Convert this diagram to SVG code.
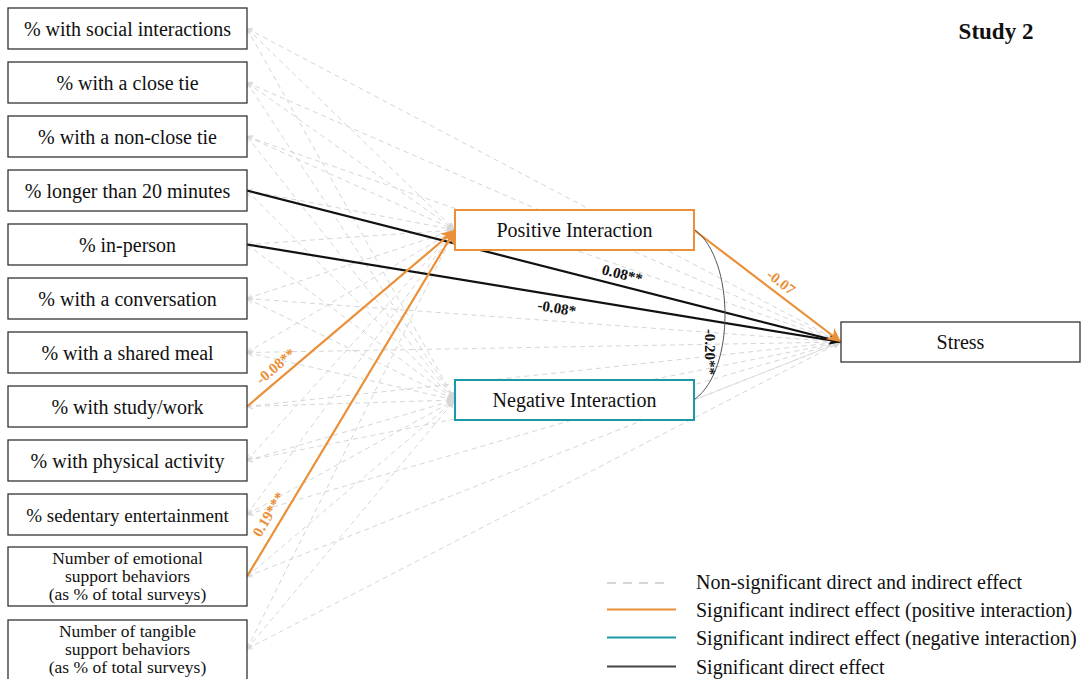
<svg xmlns="http://www.w3.org/2000/svg" width="1081" height="679" viewBox="0 0 1081 679">
<defs>
<style>
.box{fill:#fff;stroke:#333;stroke-width:1.3}
.t{font-family:"Liberation Serif","Times New Roman",serif;font-size:20px;fill:#111;text-anchor:middle}
.t2{font-family:"Liberation Serif","Times New Roman",serif;font-size:19px;fill:#111;text-anchor:middle}
.t3{font-family:"Liberation Serif","Times New Roman",serif;font-size:17.5px;fill:#111;text-anchor:middle}
.lg{font-family:"Liberation Serif","Times New Roman",serif;font-size:20px;fill:#111}
.ns{stroke:#d6d6d6;stroke-width:1;stroke-dasharray:5,4;fill:none;marker-end:url(#ag);marker-start:url(#as)}
.or{stroke:#ea9038;stroke-width:2.2;fill:none;marker-end:url(#ao)}
.bk{stroke:#111;stroke-width:2.2;fill:none;marker-end:url(#ab)}
.lb{font-family:"Liberation Serif","Times New Roman",serif;font-size:15px;font-weight:bold;text-anchor:middle}
</style>
<marker id="ag" viewBox="0 0 10 10" refX="10" refY="5" markerWidth="8" markerHeight="8" markerUnits="userSpaceOnUse" orient="auto"><path d="M0,1 L10,5 L0,9 z" fill="#d6d6d6"/></marker>
<marker id="as" viewBox="0 0 10 10" refX="0" refY="5" markerWidth="7" markerHeight="7" markerUnits="userSpaceOnUse" orient="auto"><path d="M8,1 L0,5 L8,9" fill="none" stroke="#d6d6d6" stroke-width="1.2"/></marker>
<marker id="ao" viewBox="0 0 10 10" refX="10" refY="5" markerWidth="14" markerHeight="14" markerUnits="userSpaceOnUse" orient="auto"><path d="M0,0 L10,5 L0,10 L3,5 z" fill="#ea9038"/></marker>
<marker id="ab" viewBox="0 0 10 10" refX="10" refY="5" markerWidth="12" markerHeight="12" markerUnits="userSpaceOnUse" orient="auto"><path d="M0,1 L10,5 L0,9 L3,5 z" fill="#111"/></marker>
</defs>
<rect width="1081" height="679" fill="#fff"/>
<g id="connectors">
<path class="ns" d="M247,28.5 L455,230"/><path class="ns" d="M247,28.5 L455,400"/><path class="ns" d="M247,28.5 L841,342"/>
<path class="ns" d="M247,82.5 L455,230"/><path class="ns" d="M247,82.5 L455,400"/><path class="ns" d="M247,82.5 L841,342"/>
<path class="ns" d="M247,136.5 L455,230"/><path class="ns" d="M247,136.5 L455,400"/><path class="ns" d="M247,136.5 L841,342"/>
<path class="ns" d="M247,190.5 L455,230"/><path class="ns" d="M247,190.5 L455,400"/>
<path class="ns" d="M247,244.5 L455,230"/><path class="ns" d="M247,244.5 L455,400"/>
<path class="ns" d="M247,298.5 L455,230"/><path class="ns" d="M247,298.5 L455,400"/><path class="ns" d="M247,298.5 L841,342"/>
<path class="ns" d="M247,352.5 L455,230"/><path class="ns" d="M247,352.5 L455,400"/><path class="ns" d="M247,352.5 L841,342"/>
<path class="ns" d="M247,406.5 L455,400"/><path class="ns" d="M247,406.5 L841,342"/>
<path class="ns" d="M247,460.5 L455,230"/><path class="ns" d="M247,460.5 L455,400"/><path class="ns" d="M247,460.5 L841,342"/>
<path class="ns" d="M247,514.5 L455,230"/><path class="ns" d="M247,514.5 L455,400"/><path class="ns" d="M247,514.5 L841,342"/>
<path class="ns" d="M247,576.5 L455,400"/><path class="ns" d="M247,576.5 L841,342"/>
<path class="ns" d="M247,649 L455,230"/><path class="ns" d="M247,649 L455,400"/><path class="ns" d="M247,649 L841,342"/>
<path class="ns" d="M694,400 L841,342" style="marker-start:none"/>
<path class="bk" d="M247,190.5 L841,342"/>
<path class="bk" d="M247,244.5 L841,342"/>
<path class="or" d="M247,406.5 L455,230"/>
<path class="or" d="M247,576.5 L455,230"/>
<path class="or" d="M694,230 L841,342"/>
<path d="M695,230 C735,260 735,370 695,399" fill="none" stroke="#555" stroke-width="1"/>
<text class="lb" fill="#111" transform="translate(621,279) rotate(14.3)">0.08**</text>
<text class="lb" fill="#111" transform="translate(556,313) rotate(9.3)">-0.08*</text>
<text class="lb" fill="#ea9038" transform="translate(279,370) rotate(-40.2)">-0.08**</text>
<text class="lb" fill="#ea9038" transform="translate(273,517) rotate(-59)">0.19***</text>
<text class="lb" fill="#ea9038" transform="translate(778,286) rotate(37.3)">-0.07</text>
<text class="lb" fill="#111" transform="translate(705,352) rotate(90)">-0.20**</text>
</g>
<g id="n1"><rect class="box" x="8" y="8" width="239" height="41"/><text class="t" x="127.5" y="36">% with social interactions</text></g>
<g id="n2"><rect class="box" x="8" y="62" width="239" height="41"/><text class="t" x="127.5" y="90">% with a close tie</text></g>
<g id="n3"><rect class="box" x="8" y="116" width="239" height="41"/><text class="t" x="127.5" y="144">% with a non-close tie</text></g>
<g id="n4"><rect class="box" x="8" y="170" width="239" height="41"/><text class="t" x="127.5" y="198">% longer than 20 minutes</text></g>
<g id="n5"><rect class="box" x="8" y="224" width="239" height="41"/><text class="t" x="127.5" y="252">% in-person</text></g>
<g id="n6"><rect class="box" x="8" y="278" width="239" height="41"/><text class="t" x="127.5" y="306">% with a conversation</text></g>
<g id="n7"><rect class="box" x="8" y="332" width="239" height="41"/><text class="t" x="127.5" y="360">% with a shared meal</text></g>
<g id="n8"><rect class="box" x="8" y="386" width="239" height="41"/><text class="t" x="127.5" y="414">% with study/work</text></g>
<g id="n9"><rect class="box" x="8" y="440" width="239" height="41"/><text class="t" x="127.5" y="468">% with physical activity</text></g>
<g id="n10"><rect class="box" x="8" y="494" width="239" height="41"/><text class="t2" x="127.5" y="521.5">% sedentary entertainment</text></g>
<g id="n11"><rect class="box" x="8" y="547" width="239" height="59"/><text class="t3" x="127.5" y="564">Number of emotional</text><text class="t3" x="127.5" y="582">support behaviors</text><text class="t3" x="127.5" y="600">(as % of total surveys)</text></g>
<g id="n12"><rect class="box" x="8" y="620" width="239" height="60"/><text class="t3" x="127.5" y="637">Number of tangible</text><text class="t3" x="127.5" y="655">support behaviors</text><text class="t3" x="127.5" y="673">(as % of total surveys)</text></g>
<g id="pos"><rect x="455" y="210" width="239" height="40" fill="#fff" stroke="#ea9038" stroke-width="2"/><text class="t" x="574.5" y="237">Positive Interaction</text></g>
<g id="neg"><rect x="455" y="380" width="239" height="40" fill="#fff" stroke="#1a9aa8" stroke-width="2"/><text class="t" x="574.5" y="407">Negative Interaction</text></g>
<g id="stress"><rect class="box" x="841" y="322" width="239" height="40"/><text class="t" x="960.5" y="349">Stress</text></g>
<text x="996" y="39" font-family="Liberation Serif, Times New Roman, serif" font-size="23" font-weight="bold" text-anchor="middle" fill="#111">Study 2</text>
<g id="legend">
<line x1="607" y1="583" x2="670" y2="583" stroke="#d6d6d6" stroke-width="2" stroke-dasharray="9,7"/>
<line x1="607" y1="609.5" x2="676" y2="609.5" stroke="#ea9038" stroke-width="2"/>
<line x1="607" y1="637.5" x2="676" y2="637.5" stroke="#1a9aa8" stroke-width="2"/>
<line x1="607" y1="666.5" x2="676" y2="666.5" stroke="#444" stroke-width="2"/>
<text class="lg" x="696" y="589">Non-significant direct and indirect effect</text>
<text class="lg" x="696" y="617">Significant indirect effect (positive interaction)</text>
<text class="lg" x="696" y="645">Significant indirect effect (negative interaction)</text>
<text class="lg" x="696" y="674">Significant direct effect</text>
</g>
</svg>
